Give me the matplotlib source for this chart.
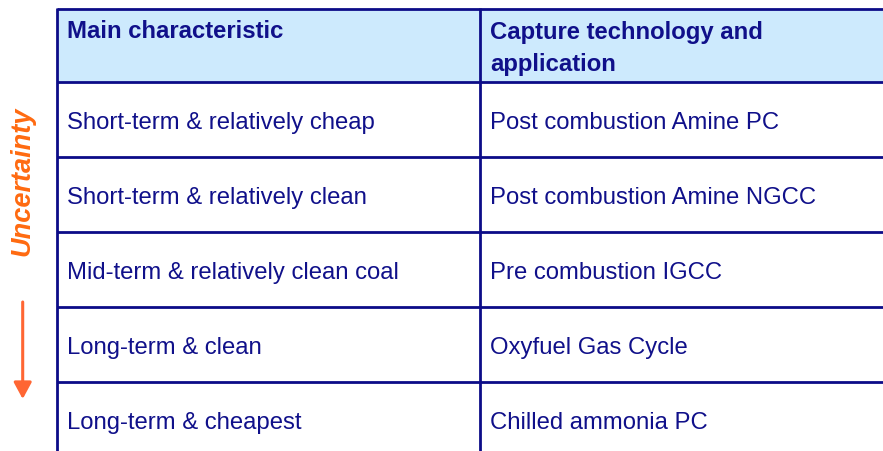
import matplotlib
matplotlib.use("Agg")
import matplotlib.pyplot as plt
from matplotlib.patches import Rectangle, FancyArrowPatch

headers = [["Main characteristic"], ["Capture technology and", "application"]]
characteristics = [
    "Short-term & relatively cheap",
    "Short-term & relatively clean",
    "Mid-term & relatively clean coal",
    "Long-term & clean",
    "Long-term & cheapest",
]
technologies = [
    "Post combustion Amine PC",
    "Post combustion Amine NGCC",
    "Pre combustion IGCC",
    "Oxyfuel Gas Cycle",
    "Chilled ammonia PC",
]
side_label = "Uncertainty"

W, H = 883, 452
fig = plt.figure(figsize=(W / 100, H / 100), dpi=100)
ax = fig.add_axes([0, 0, 1, 1])
ax.set_xlim(0, W)
ax.set_ylim(H, 0)
ax.axis("off")

navy = "#10108a"
line_c = "#0c0c88"
head_fill = "#cdeafd"
orange = "#ff6a10"
font = "Liberation Sans"
fs = 17.2

left, mid, right = 57, 480, 883
top, head_bottom = 10, 83
row_h = 75

ax.add_patch(Rectangle((left, top), right - left, head_bottom - top,
                       facecolor=head_fill, edgecolor="none", zorder=0))

ys = [top, head_bottom] + [head_bottom + row_h * (i + 1) for i in range(len(characteristics) - 1)]
for y in ys:
    ax.plot([left, right], [y, y], color=line_c, lw=2.0, solid_capstyle="butt", zorder=2)
for x in (left, mid):
    ax.plot([x, x], [top - 1, H], color=line_c, lw=2.0, solid_capstyle="butt", zorder=2)

# header
for col_x, lines in zip((left, mid), headers):
    for j, line in enumerate(lines):
        ax.text(col_x + 10, 38.5 + 32.5 * j, line, ha="left", va="baseline", color=navy,
                fontsize=fs, fontweight="bold", family=font)

for i, (c, t) in enumerate(zip(characteristics, technologies)):
    yb = head_bottom + row_h * i + row_h / 2 + 8.5
    ax.text(left + 10, yb, c, ha="left", va="baseline", color=navy, fontsize=fs, family=font)
    ax.text(mid + 10, yb, t, ha="left", va="baseline", color=navy, fontsize=fs, family=font)

ax.text(22, 181, side_label, rotation=90, ha="center", va="center", color=orange,
        fontsize=19.5, fontweight="bold", fontstyle="italic", family=font)
ax.add_patch(FancyArrowPatch((22.7, 303), (22.7, 400),
                             arrowstyle="-|>,head_length=10,head_width=5.4",
                             color="#ff6633", lw=2.2, mutation_scale=1,
                             shrinkA=0, shrinkB=0))

fig.savefig("out.png", dpi=100)
